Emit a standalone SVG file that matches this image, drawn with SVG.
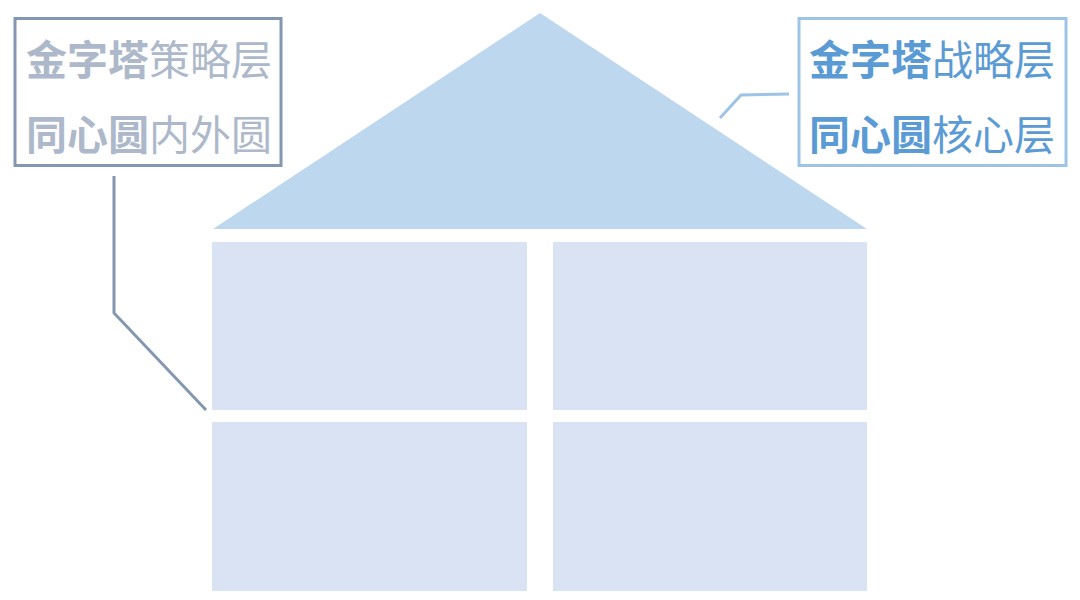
<svg xmlns="http://www.w3.org/2000/svg" width="1080" height="600" viewBox="0 0 1080 600">
<style>
.cell{fill:#dae3f3}
.roof{fill:#bdd7ee}
.lbl{font-family:"Noto Sans CJK SC","Noto Sans",sans-serif;font-size:41px}
.b{font-weight:700}
.conn{fill:none;stroke-width:3;stroke-linejoin:miter}
</style>
<rect width="1080" height="600" fill="#ffffff"/>
<g id="roof"><polygon class="roof" points="540,13 867,229 213,229"/></g>
<g id="cell-tl"><rect class="cell" x="212" y="242" width="315" height="168"/></g>
<g id="cell-tr"><rect class="cell" x="553" y="242" width="314" height="168"/></g>
<g id="cell-bl"><rect class="cell" x="212" y="422" width="315" height="169"/></g>
<g id="cell-br"><rect class="cell" x="553" y="422" width="314" height="169"/></g>
<g id="connectors">
<polyline class="conn" stroke="#8497b0" points="114,176 114,313 206,410"/>
<polyline class="conn" stroke="#9dc3e6" points="789,94 741,95 720,118"/>
</g>
<g id="label-left">
<rect x="15" y="18.5" width="266" height="147" fill="#ffffff" stroke="#8497b0" stroke-width="3"/>
<text class="lbl" x="26" y="75" fill="#adb9ca"><tspan class="b">金字塔</tspan>策略层</text>
<text class="lbl" x="26" y="150" fill="#adb9ca"><tspan class="b">同心圆</tspan>内外圆</text>
</g>
<g id="label-right">
<rect x="799" y="18.5" width="267" height="147" fill="#ffffff" stroke="#9dc3e6" stroke-width="3"/>
<text class="lbl" x="809" y="75" fill="#5b9bd5"><tspan class="b">金字塔</tspan>战略层</text>
<text class="lbl" x="809" y="150" fill="#5b9bd5"><tspan class="b">同心圆</tspan>核心层</text>
</g>
</svg>
